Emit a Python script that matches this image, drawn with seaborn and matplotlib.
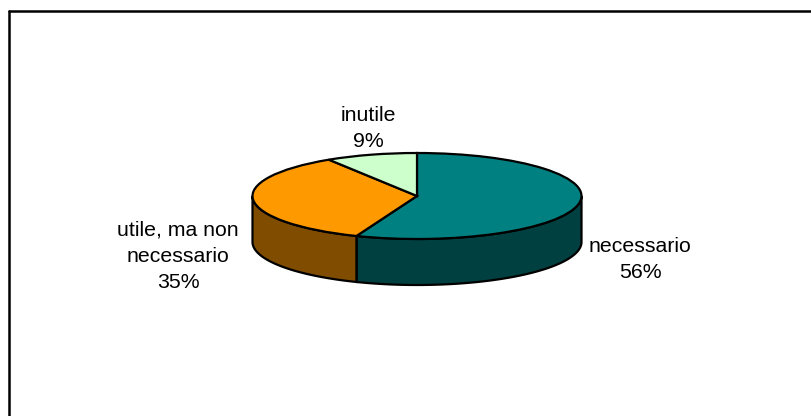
import numpy as np
import matplotlib
matplotlib.use("Agg")
import matplotlib.pyplot as plt
import seaborn as sns
from matplotlib.patches import Polygon
from matplotlib.lines import Line2D

categories = ["necessario", "utile, ma non\nnecessario", "inutile"]
shares = [56, 35, 9]
top_colors = ["#008080", "#FF9900", "#CCFFCC"]
side_colors = ["#004040", "#804C00", "#668066"]

W, H = 811, 416
CX, CY, RX, RY, DEPTH = 417, 196, 164.5, 43, 46

sns.set_theme(style="white")
plt.rcParams["font.family"] = ["Liberation Sans", "DejaVu Sans"]

fig = plt.figure(figsize=(W / 100, H / 100), dpi=100, facecolor="white")
ax = fig.add_axes([0, 0, 1, 1])

# wall of the pie, drawn from the same shares as the top face
depth = DEPTH / RY
fr = np.cumsum([0] + shares) / sum(shares)
for i, color in enumerate(side_colors):
    a0, a1 = 90 - 360 * fr[i + 1], 90 - 360 * fr[i]
    angs = np.linspace(a0, a1, 200)
    angs = angs[np.sin(np.radians(angs)) <= 0]
    if len(angs) == 0:
        continue
    x = np.cos(np.radians(angs))
    y = np.sin(np.radians(angs))
    pts = np.r_[np.c_[x, y], np.c_[x[::-1], y[::-1] - depth]]
    ax.add_patch(Polygon(pts, closed=True, facecolor=color, edgecolor="black",
                         linewidth=1.6, zorder=1))

ax.pie(shares, colors=top_colors, startangle=90, counterclock=False, radius=1,
       wedgeprops=dict(edgecolor="black", linewidth=1.6, zorder=2))
ax.set_aspect("auto")
ax.set_xlim(-CX / RX, (W - CX) / RX)
ax.set_ylim((CY - H) / RY, CY / RY)
ax.set_axis_off()


def to_data(px, py):
    return (px - CX) / RX, (CY - py) / RY


label_pos = [(640, 259.5), (178, 256), (368, 128.5)]
for name, val, (px, py) in zip(categories, shares, label_pos):
    dx, dy = to_data(px, py)
    ax.text(dx, dy, f"{name}\n{val}%", ha="center", va="center",
            fontsize=15.3, color="black", linespacing=1.5, zorder=5)

fig.add_artist(Line2D([9 / W, 9 / W], [0, 1 - 11 / H], color="black", linewidth=1.8))
fig.add_artist(Line2D([9 / W, 1], [1 - 11 / H, 1 - 11 / H], color="black", linewidth=1.8))

fig.savefig("out.png", dpi=100, facecolor="white")
